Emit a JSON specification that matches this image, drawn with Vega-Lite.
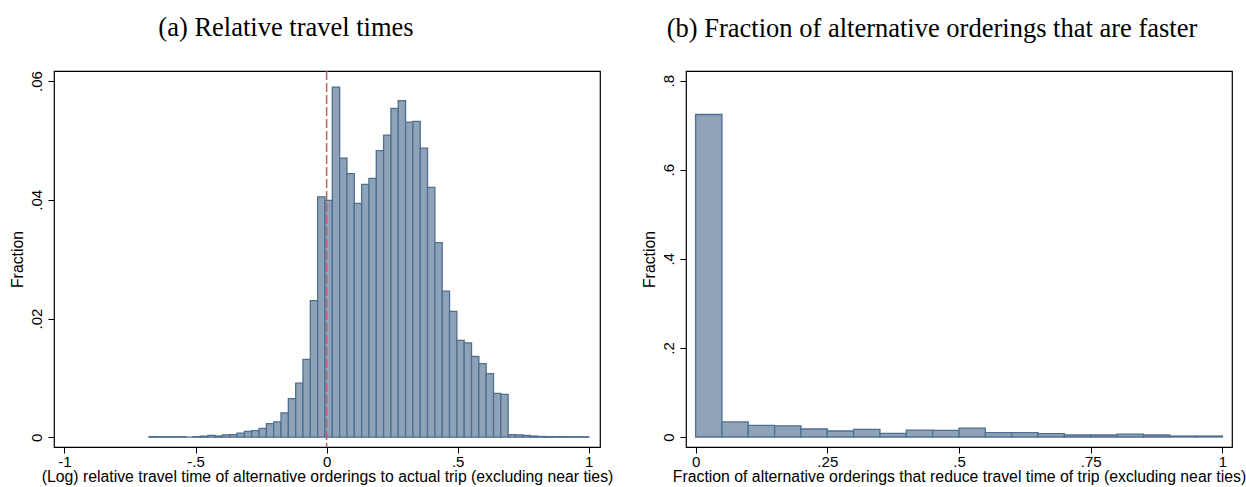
{
  "$schema": "https://vega.github.io/schema/vega-lite/v6.json",
  "background": "white",
  "padding": {"left": 8, "top": 14, "right": 14, "bottom": 2},
  "bounds": "flush",
  "spacing": 86,
  "datasets": {
    "relative": [
      {"bin_start": -0.677, "bin_end": -0.649, "fraction": 0.0001},
      {"bin_start": -0.649, "bin_end": -0.6211, "fraction": 0.00008},
      {"bin_start": -0.6211, "bin_end": -0.5932, "fraction": 0.00008},
      {"bin_start": -0.5932, "bin_end": -0.5652, "fraction": 0.00008},
      {"bin_start": -0.5652, "bin_end": -0.5373, "fraction": 0.0001},
      {"bin_start": -0.5373, "bin_end": -0.5093, "fraction": 0},
      {"bin_start": -0.5093, "bin_end": -0.4814, "fraction": 0.0001},
      {"bin_start": -0.4814, "bin_end": -0.4534, "fraction": 0.00017},
      {"bin_start": -0.4534, "bin_end": -0.4255, "fraction": 0.0003},
      {"bin_start": -0.4255, "bin_end": -0.3975, "fraction": 0.0002},
      {"bin_start": -0.3975, "bin_end": -0.3696, "fraction": 0.0004},
      {"bin_start": -0.3696, "bin_end": -0.3416, "fraction": 0.00045},
      {"bin_start": -0.3416, "bin_end": -0.3137, "fraction": 0.0007},
      {"bin_start": -0.3137, "bin_end": -0.2857, "fraction": 0.00096},
      {"bin_start": -0.2857, "bin_end": -0.2578, "fraction": 0.0011},
      {"bin_start": -0.2578, "bin_end": -0.2298, "fraction": 0.0015},
      {"bin_start": -0.2298, "bin_end": -0.2019, "fraction": 0.0023},
      {"bin_start": -0.2019, "bin_end": -0.1739, "fraction": 0.0026},
      {"bin_start": -0.1739, "bin_end": -0.146, "fraction": 0.0041},
      {"bin_start": -0.146, "bin_end": -0.118, "fraction": 0.0065},
      {"bin_start": -0.118, "bin_end": -0.0901, "fraction": 0.0091},
      {"bin_start": -0.0901, "bin_end": -0.0621, "fraction": 0.0131},
      {"bin_start": -0.0621, "bin_end": -0.0342, "fraction": 0.023},
      {"bin_start": -0.0342, "bin_end": -0.0062, "fraction": 0.0405},
      {"bin_start": -0.0062, "bin_end": 0.0218, "fraction": 0.0399},
      {"bin_start": 0.0218, "bin_end": 0.0497, "fraction": 0.059},
      {"bin_start": 0.0497, "bin_end": 0.0777, "fraction": 0.047},
      {"bin_start": 0.0777, "bin_end": 0.1056, "fraction": 0.0444},
      {"bin_start": 0.1056, "bin_end": 0.1336, "fraction": 0.0394},
      {"bin_start": 0.1336, "bin_end": 0.1615, "fraction": 0.0426},
      {"bin_start": 0.1615, "bin_end": 0.1895, "fraction": 0.0436},
      {"bin_start": 0.1895, "bin_end": 0.2174, "fraction": 0.0483},
      {"bin_start": 0.2174, "bin_end": 0.2454, "fraction": 0.0509},
      {"bin_start": 0.2454, "bin_end": 0.2733, "fraction": 0.0554},
      {"bin_start": 0.2733, "bin_end": 0.3013, "fraction": 0.0567},
      {"bin_start": 0.3013, "bin_end": 0.3292, "fraction": 0.0531},
      {"bin_start": 0.3292, "bin_end": 0.3572, "fraction": 0.0532},
      {"bin_start": 0.3572, "bin_end": 0.3851, "fraction": 0.0487},
      {"bin_start": 0.3851, "bin_end": 0.4131, "fraction": 0.0421},
      {"bin_start": 0.4131, "bin_end": 0.441, "fraction": 0.0328},
      {"bin_start": 0.441, "bin_end": 0.469, "fraction": 0.0246},
      {"bin_start": 0.469, "bin_end": 0.4969, "fraction": 0.0212},
      {"bin_start": 0.4969, "bin_end": 0.5249, "fraction": 0.0163},
      {"bin_start": 0.5249, "bin_end": 0.5528, "fraction": 0.0159},
      {"bin_start": 0.5528, "bin_end": 0.5808, "fraction": 0.0136},
      {"bin_start": 0.5808, "bin_end": 0.6087, "fraction": 0.0124},
      {"bin_start": 0.6087, "bin_end": 0.6367, "fraction": 0.0107},
      {"bin_start": 0.6367, "bin_end": 0.6646, "fraction": 0.0074},
      {"bin_start": 0.6646, "bin_end": 0.6926, "fraction": 0.0072},
      {"bin_start": 0.6926, "bin_end": 0.7205, "fraction": 0.00045},
      {"bin_start": 0.7205, "bin_end": 0.7485, "fraction": 0.0004},
      {"bin_start": 0.7485, "bin_end": 0.7764, "fraction": 0.0003},
      {"bin_start": 0.7764, "bin_end": 0.8044, "fraction": 0.0002},
      {"bin_start": 0.8044, "bin_end": 0.8323, "fraction": 0.00012},
      {"bin_start": 0.8323, "bin_end": 0.8603, "fraction": 0.0001},
      {"bin_start": 0.8603, "bin_end": 0.8882, "fraction": 0.0001},
      {"bin_start": 0.8882, "bin_end": 0.9162, "fraction": 0.0001},
      {"bin_start": 0.9162, "bin_end": 0.9441, "fraction": 0.00008},
      {"bin_start": 0.9441, "bin_end": 0.9721, "fraction": 0.00008},
      {"bin_start": 0.9721, "bin_end": 1.0, "fraction": 0.00008}
    ],
    "faster": [
      {"bin_start": 0.0, "bin_end": 0.05, "fraction": 0.724},
      {"bin_start": 0.05, "bin_end": 0.1, "fraction": 0.034},
      {"bin_start": 0.1, "bin_end": 0.15, "fraction": 0.026},
      {"bin_start": 0.15, "bin_end": 0.2, "fraction": 0.025},
      {"bin_start": 0.2, "bin_end": 0.25, "fraction": 0.018},
      {"bin_start": 0.25, "bin_end": 0.3, "fraction": 0.0135},
      {"bin_start": 0.3, "bin_end": 0.35, "fraction": 0.017},
      {"bin_start": 0.35, "bin_end": 0.4, "fraction": 0.0082},
      {"bin_start": 0.4, "bin_end": 0.45, "fraction": 0.0157},
      {"bin_start": 0.45, "bin_end": 0.5, "fraction": 0.0149},
      {"bin_start": 0.5, "bin_end": 0.55, "fraction": 0.02},
      {"bin_start": 0.55, "bin_end": 0.6, "fraction": 0.0097},
      {"bin_start": 0.6, "bin_end": 0.65, "fraction": 0.0097},
      {"bin_start": 0.65, "bin_end": 0.7, "fraction": 0.0075},
      {"bin_start": 0.7, "bin_end": 0.75, "fraction": 0.0045},
      {"bin_start": 0.75, "bin_end": 0.8, "fraction": 0.0045},
      {"bin_start": 0.8, "bin_end": 0.85, "fraction": 0.0067},
      {"bin_start": 0.85, "bin_end": 0.9, "fraction": 0.0045},
      {"bin_start": 0.9, "bin_end": 0.95, "fraction": 0.0022},
      {"bin_start": 0.95, "bin_end": 1.0, "fraction": 0.0022}
    ],
    "reference": [{"value": 0}]
  },
  "hconcat": [
    {
      "width": 546,
      "height": 376,
      "title": {"text": "(a) Relative travel times", "dx": -41},
      "layer": [
        {
          "data": {"name": "relative"},
          "mark": {"type": "bar", "fill": "#8ea3b8", "stroke": "#4f6f90", "strokeWidth": 1.3},
          "encoding": {
            "x": {"field": "bin_start", "type": "quantitative",
                  "scale": {"domain": [-1.04, 1.043], "nice": false, "zero": false},
                  "axis": {"values": [-1, -0.5, 0, 0.5, 1],
                           "title": "(Log) relative travel time of alternative orderings to actual trip (excluding near ties)"}},
            "x2": {"field": "bin_end"},
            "y": {"field": "fraction", "type": "quantitative",
                  "scale": {"domain": [-0.00165, 0.0617], "nice": false, "zero": false},
                  "axis": {"values": [0, 0.02, 0.04, 0.06], "title": "Fraction"}},
            "y2": {"datum": 0}
          }
        },
        {
          "data": {"name": "reference"},
          "mark": {"type": "rule", "color": "#bb5f69", "strokeWidth": 1.5, "strokeDash": [9, 3]},
          "encoding": {"x": {"field": "value", "type": "quantitative"}}
        }
      ]
    },
    {
      "width": 546,
      "height": 376,
      "title": {"text": "(b) Fraction of alternative orderings that are faster", "dx": -27},
      "data": {"name": "faster"},
      "mark": {"type": "bar", "fill": "#8ea3b8", "stroke": "#4f6f90", "strokeWidth": 1.3},
      "encoding": {
        "x": {"field": "bin_start", "type": "quantitative",
              "scale": {"domain": [-0.0182, 1.0182], "nice": false, "zero": false},
              "axis": {"values": [0, 0.25, 0.5, 0.75, 1],
                       "title": "Fraction of alternative orderings that reduce travel time of trip (excluding near ties)"}},
        "x2": {"field": "bin_end"},
        "y": {"field": "fraction", "type": "quantitative",
              "scale": {"domain": [-0.0224, 0.8217], "nice": false, "zero": false},
              "axis": {"values": [0, 0.2, 0.4, 0.6, 0.8], "title": "Fraction"}},
        "y2": {"datum": 0}
      }
    }
  ],
  "config": {
    "view": {"stroke": "black", "strokeWidth": 1.2},
    "title": {"font": "Liberation Serif", "fontSize": 26.5, "fontWeight": "normal", "color": "black", "anchor": "middle", "offset": 29},
    "axis": {
      "domain": false,
      "grid": false,
      "labelFont": "Liberation Sans",
      "labelFontSize": 15,
      "labelColor": "black",
      "titleFont": "Liberation Sans",
      "titleFontSize": 15.8,
      "titleFontWeight": "normal",
      "titleColor": "black",
      "tickColor": "black",
      "tickSize": 6,
      "labelExpr": "replace(replace(format(datum.value, '~g'), '\u2212', '-'), '0.', '.')"
    },
    "axisX": {"labelPadding": 1, "titlePadding": 0},
    "axisY": {"labelAngle": 270, "labelAlign": "center", "labelBaseline": "bottom", "labelPadding": 4, "titlePadding": 4}
  }
}
